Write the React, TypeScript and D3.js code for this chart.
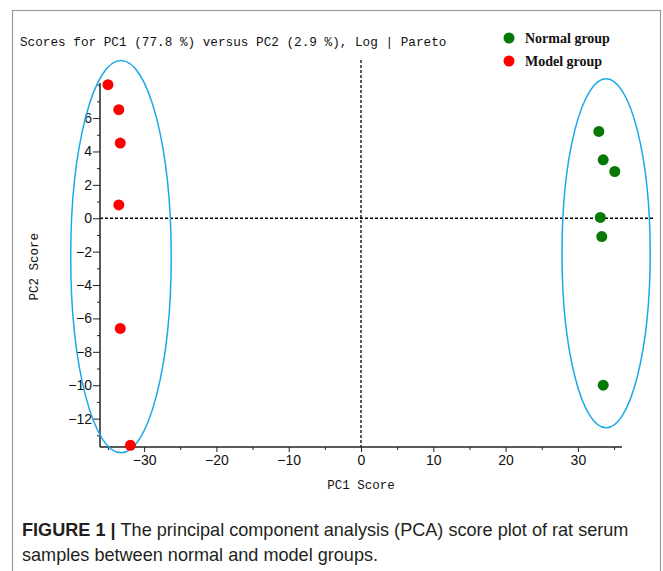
import { useEffect, useRef } from "react";
import * as d3 from "d3";

// PC1 / PC2 scores
const normalPC1 = [32.9, 33.5, 35.1, 33.1, 33.3, 33.5];
const normalPC2 = [5.2, 3.5, 2.8, 0.05, -1.1, -10.0];
const modelPC1 = [-35.0, -33.5, -33.3, -33.5, -33.3, -31.9];
const modelPC2 = [8.0, 6.5, 4.5, 0.8, -6.6, -13.6];

const xTicks = [-30, -20, -10, 0, 10, 20, 30];
const yTicks = [-12, -10, -8, -6, -4, -2, 0, 2, 4, 6];

// group ellipses: [cx, cy, rx, ry] in score units
const ellipses = [
  [-33.2, -2.3, 6.95, 11.75],
  [33.9, -2.1, 6.1, 10.45],
];

export default function App() {
  const ref = useRef<SVGSVGElement>(null);

  useEffect(() => {
    if (!ref.current) return;
    const svg = d3.select(ref.current);
    svg.selectAll("*").remove();

    const width = 663;
    const height = 571;
    const margin = { top: 83, right: 41, bottom: 124, left: 100 };

    const x = d3
      .scaleLinear()
      .domain([-36.1, 36.1])
      .range([margin.left, width - margin.right]);
    const y = d3
      .scaleLinear()
      .domain([-13.7, 8.1])
      .range([height - margin.bottom, margin.top]);

    const mono = "'Liberation Mono', 'DejaVu Sans Mono', monospace";
    const axisFont = "'Liberation Sans Narrow', 'Liberation Sans', Arial, sans-serif";

    // outer frame
    svg
      .append("rect")
      .attr("x", 12.5)
      .attr("y", 10.5)
      .attr("width", 648)
      .attr("height", 580)
      .attr("fill", "none")
      .attr("stroke", "#9a9a9a")
      .attr("stroke-width", 1.2);

    // title
    svg
      .append("text")
      .attr("x", 20)
      .attr("y", 46)
      .style("font-family", mono)
      .style("font-size", "12.7px")
      .attr("fill", "#111")
      .text("Scores for PC1 (77.8 %) versus PC2 (2.9 %), Log | Pareto");

    // reference lines
    svg
      .append("line")
      .attr("x1", x(0))
      .attr("x2", x(0))
      .attr("y1", y.range()[1] - 23)
      .attr("y2", y.range()[0])
      .attr("stroke", "#000")
      .attr("stroke-width", 1.3)
      .attr("stroke-dasharray", "3,2");
    svg
      .append("line")
      .attr("x1", x.range()[0])
      .attr("x2", x.range()[1] + 33)
      .attr("y1", y(0))
      .attr("y2", y(0))
      .attr("stroke", "#000")
      .attr("stroke-width", 1.3)
      .attr("stroke-dasharray", "3,2");

    // x axis
    const xAxis = svg
      .append("g")
      .attr("transform", `translate(0,${y.range()[0]})`)
      .call(
        d3
          .axisBottom(x)
          .tickValues(d3.range(-35, 36, 5))
          .tickSize(4)
          .tickFormat((d) => (xTicks.includes(+d) ? d3.format("")(+d).replace("-", "−") : ""))
      );
    xAxis.select(".domain").attr("d", `M${x.range()[0]},0H${x.range()[1]}`);
    xAxis
      .selectAll(".tick line")
      .attr("stroke", "#222")
      .attr("y2", (d: any) => (xTicks.includes(+d) ? 5 : 3));
    xAxis.selectAll(".domain").attr("stroke", "#222").attr("stroke-width", 1.5);
    xAxis
      .selectAll("text")
      .attr("y", 8)
      .attr("fill", "#111")
      .style("font-family", axisFont)
      .style("font-size", "14px");

    // y axis
    const yAxis = svg
      .append("g")
      .attr("transform", `translate(${x.range()[0]},0)`)
      .call(
        d3
          .axisLeft(y)
          .tickValues(d3.range(-13, 9, 1))
          .tickSize(6)
          .tickFormat((d) => (yTicks.includes(+d) ? d3.format("")(+d).replace("-", "−") : ""))
      );
    yAxis.select(".domain").attr("d", `M0,${y.range()[0]}V${y.range()[1]}`);
    yAxis
      .selectAll(".tick line")
      .attr("stroke", "#222")
      .attr("x2", (d: any) => (yTicks.includes(+d) ? -7 : -3));
    yAxis.selectAll(".domain").attr("stroke", "#222").attr("stroke-width", 1.5);
    yAxis
      .selectAll("text")
      .attr("x", -8)
      .attr("fill", "#111")
      .style("font-family", axisFont)
      .style("font-size", "14px");

    // axis titles
    svg
      .append("text")
      .attr("x", x(0))
      .attr("y", 489)
      .attr("text-anchor", "middle")
      .style("font-family", mono)
      .style("font-size", "12.5px")
      .attr("fill", "#111")
      .text("PC1 Score");
    svg
      .append("text")
      .attr("transform", `translate(38,${y(-2.9)}) rotate(-90)`)
      .attr("text-anchor", "middle")
      .style("font-family", mono)
      .style("font-size", "12.5px")
      .attr("fill", "#111")
      .text("PC2 Score");

    // ellipses
    svg
      .selectAll(".grp-ellipse")
      .data(ellipses)
      .join("ellipse")
      .attr("class", "grp-ellipse")
      .attr("cx", (d) => x(d[0]))
      .attr("cy", (d) => y(d[1]))
      .attr("rx", (d) => x(d[2]) - x(0))
      .attr("ry", (d) => y(0) - y(d[3]))
      .attr("fill", "none")
      .attr("stroke", "#1ba9ea")
      .attr("stroke-width", 1.5);

    // points
    svg
      .selectAll(".pt-model")
      .data(modelPC1.map((v, i) => [v, modelPC2[i]]))
      .join("circle")
      .attr("class", "pt-model")
      .attr("cx", (d) => x(d[0]))
      .attr("cy", (d) => y(d[1]))
      .attr("r", 5.5)
      .attr("fill", "#ff0000");
    svg
      .selectAll(".pt-normal")
      .data(normalPC1.map((v, i) => [v, normalPC2[i]]))
      .join("circle")
      .attr("class", "pt-normal")
      .attr("cx", (d) => x(d[0]))
      .attr("cy", (d) => y(d[1]))
      .attr("r", 5.5)
      .attr("fill", "#067806");

    // legend
    const legendData = [
      { label: "Normal group", color: "#067806" },
      { label: "Model group", color: "#ff0000" },
    ];
    const legend = svg.append("g").attr("transform", "translate(509,38)");
    legendData.forEach((item, i) => {
      const row = legend.append("g").attr("transform", `translate(0,${i * 23})`);
      row.append("circle").attr("r", 5.5).attr("fill", item.color);
      row
        .append("text")
        .attr("x", 16)
        .attr("y", 5)
        .style("font-family", "'Liberation Serif', 'Times New Roman', serif")
        .style("font-weight", "bold")
        .style("font-size", "14px")
        .attr("fill", "#111")
        .text(item.label);
    });

    // caption
    const caption = svg
      .append("text")
      .style("font-family", "'Liberation Sans', Arial, sans-serif")
      .style("font-size", "18.1px")
      .attr("fill", "#231f20");
    const line1 = caption.append("tspan").attr("x", 22).attr("y", 536);
    line1.append("tspan").style("font-weight", "bold").text("FIGURE 1 | ");
    line1.append("tspan").text("The principal component analysis (PCA) score plot of rat serum");
    caption
      .append("tspan")
      .attr("x", 22)
      .attr("y", 561)
      .text("samples between normal and model groups.");
  }, []);

  return (
    <div style={{ position: "absolute", left: 0, top: 0 }}>
      <svg ref={ref} width={663} height={571} style={{ display: "block", background: "#fff" }} />
    </div>
  );
}
